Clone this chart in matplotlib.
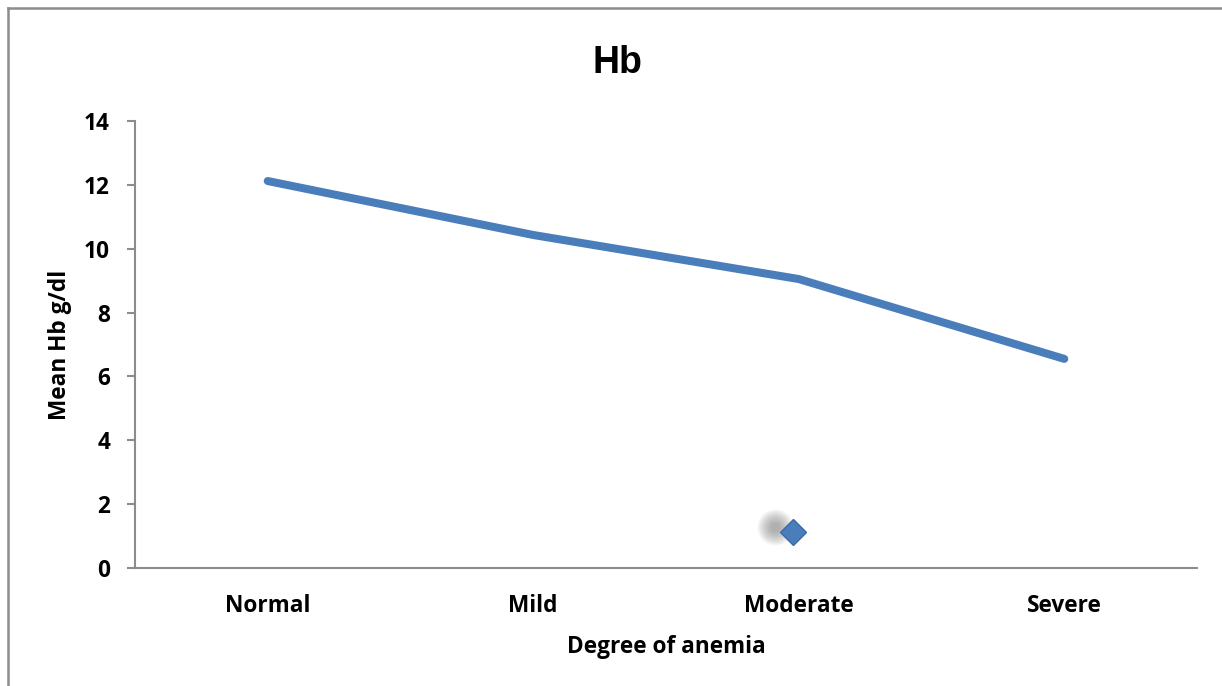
import matplotlib.pyplot as plt
from matplotlib.lines import Line2D
from matplotlib.transforms import offset_copy

categories = ["Normal", "Mild", "Moderate", "Severe"]
mean_hb = [12.12, 10.43, 9.05, 6.55]
# stray legend key drawn inside the plot area in the original
stray_x = 1.98
stray_y = 1.13
yticks = [0, 2, 4, 6, 8, 10, 12, 14]

blue = "#4A7EBB"
axis_grey = "#8C8C8C"
fnt = ["Open Sans", "DejaVu Sans"]
fs = 16.3

fig = plt.figure(figsize=(12.22, 6.86), dpi=100)
ax = fig.add_axes([135 / 1222, 1 - 568 / 686, 1062 / 1222, 447 / 686])

x = list(range(len(categories)))
ax.plot(x, mean_hb, color=blue, lw=5.8, solid_capstyle="round",
        solid_joinstyle="round", zorder=3)

# blurred shadow of the marker
tr = offset_copy(ax.transData, fig=fig, x=-13, y=3.5, units="points")
for i in range(14):
    s = 26 - i * 1.5
    ax.plot([stray_x], [stray_y], marker="o", ms=s, color="#7a7a7a",
            alpha=0.055, mec="none", transform=tr, zorder=2)
ax.plot([stray_x], [stray_y], marker="D", ms=13.5, color=blue,
        mec="#3A69A6", mew=1, zorder=4)

ax.set_xlim(-0.5, 3.5)
ax.set_ylim(0, 14)
ax.set_yticks(yticks)
ax.set_xticks(x)
ax.set_xticklabels(categories)

for side in ["top", "right"]:
    ax.spines[side].set_visible(False)
for side in ["left", "bottom"]:
    ax.spines[side].set_color(axis_grey)
    ax.spines[side].set_linewidth(1.5)

ax.tick_params(axis="y", length=6, width=1.5, color=axis_grey, pad=12)
ax.tick_params(axis="x", length=0, pad=19)
for lab in ax.get_xticklabels() + ax.get_yticklabels():
    lab.set_fontfamily(fnt)
    lab.set_fontweight("bold")
    lab.set_fontsize(fs)

ax.set_xlabel("Degree of anemia", family=fnt, fontweight="bold",
              fontsize=fs, labelpad=12)
ax.set_ylabel("Mean Hb g/dl", family=fnt, fontweight="bold",
              fontsize=fs, labelpad=9)

fig.text(617 / 1222, 1 - 63 / 686, "Hb", family=["Liberation Sans", "DejaVu Sans"],
         fontweight="bold", fontsize=27, ha="center", va="center")

# chart area border (cropped on right and bottom)
fig.add_artist(Line2D([8 / 1222, 1.0], [1 - 8 / 686] * 2, color=axis_grey,
                      lw=1.8, transform=fig.transFigure))
fig.add_artist(Line2D([8 / 1222] * 2, [0.0, 1 - 8 / 686], color=axis_grey,
                      lw=1.8, transform=fig.transFigure))

fig.savefig("out.png", dpi=100)
